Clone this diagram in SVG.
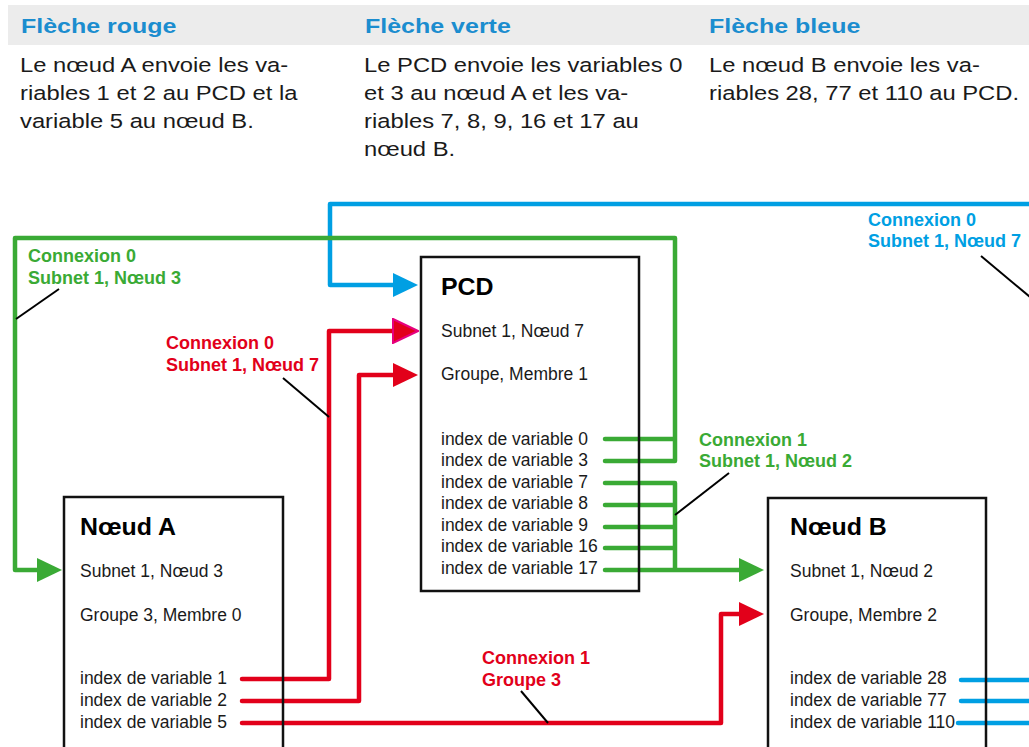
<svg xmlns="http://www.w3.org/2000/svg" width="1029" height="747" viewBox="0 0 1029 747">
<style>
text{font-family:"Liberation Sans",Arial,sans-serif}
.hd{font-size:21px;font-weight:bold;fill:#1b8dcf}
.bd{font-size:20.5px;fill:#1a1a1a}
.nt{font-size:23.5px;font-weight:bold;fill:#000}
.nb{font-size:17.5px;fill:#1a1a1a}
.lb{font-size:18px;font-weight:bold}
.box{fill:none;stroke:#111;stroke-width:2.5}
.g{fill:none;stroke:#3aaa35;stroke-width:4.5;stroke-linecap:round;stroke-linejoin:round}
.r{fill:none;stroke:#e2001a;stroke-width:4.5;stroke-linecap:round;stroke-linejoin:round}
.b{fill:none;stroke:#009fe3;stroke-width:4.5;stroke-linecap:round;stroke-linejoin:round}
.ld{fill:none;stroke:#000;stroke-width:2}
</style>
<defs>
<marker id="ag" markerUnits="userSpaceOnUse" viewBox="0 0 25 24" refX="2" refY="12" markerWidth="25" markerHeight="24" orient="auto"><path d="M0,0 L25,12 L0,24 z" fill="#3aaa35"/></marker>
<marker id="ar" markerUnits="userSpaceOnUse" viewBox="0 0 25 24" refX="2" refY="12" markerWidth="25" markerHeight="24" orient="auto"><path d="M0,0 L25,12 L0,24 z" fill="#e2001a"/></marker>
<marker id="arm" markerUnits="userSpaceOnUse" viewBox="-1 -1 27 26" refX="2" refY="12" markerWidth="27" markerHeight="26" orient="auto"><path d="M0,0 L25,12 L0,24 z" fill="#e2001a" stroke="#e6007e" stroke-width="2" stroke-linejoin="miter"/></marker>
<marker id="ab" markerUnits="userSpaceOnUse" viewBox="0 0 25 24" refX="2" refY="12" markerWidth="25" markerHeight="24" orient="auto"><path d="M0,0 L25,12 L0,24 z" fill="#009fe3"/></marker>
</defs>

<g id="header">
<rect x="8" y="5" width="1021" height="40" fill="#ececec"/>
<text class="hd" transform="translate(21,33) scale(1.19,1)">Flèche rouge</text>
<text class="hd" transform="translate(365,33) scale(1.19,1)">Flèche verte</text>
<text class="hd" transform="translate(709,33) scale(1.19,1)">Flèche bleue</text>
<text class="bd" transform="translate(20,72) scale(1.16,1)">Le nœud A envoie les va-</text>
<text class="bd" transform="translate(20,100) scale(1.16,1)">riables 1 et 2 au PCD et la</text>
<text class="bd" transform="translate(20,128) scale(1.16,1)">variable 5 au nœud B.</text>
<text class="bd" transform="translate(364,72) scale(1.16,1)">Le PCD envoie les variables 0</text>
<text class="bd" transform="translate(364,100) scale(1.16,1)">et 3 au nœud A et les va-</text>
<text class="bd" transform="translate(364,128) scale(1.16,1)">riables 7, 8, 9, 16 et 17 au</text>
<text class="bd" transform="translate(364,156) scale(1.16,1)">nœud B.</text>
<text class="bd" transform="translate(709,72) scale(1.16,1)">Le nœud B envoie les va-</text>
<text class="bd" transform="translate(709,100) scale(1.16,1)">riables 28, 77 et 110 au PCD.</text>
</g>

<g id="connectors">
<!-- blue: Noeud B -> PCD -->
<path class="b" d="M961,680 H1034 M961,701 H1034 M958,723 H1034 V204 H330 V285 H395" marker-end="url(#ab)"/>
<!-- green: PCD -> Noeud A -->
<path class="g" d="M605,439 H675 M605,461 H675 V238 H15 V570 H39" marker-end="url(#ag)"/>
<!-- green: PCD -> Noeud B -->
<path class="g" d="M605,483 H675 M605,505 H675 M605,527 H675 M605,548 H675 M675,483 V570 M605,570 H741" marker-end="url(#ag)"/>
<!-- red: Noeud A -> PCD -->
<path class="r" d="M242,679 H329 V331 H395" marker-end="url(#arm)"/>
<path class="r" d="M242,701 H359 V375 H395" marker-end="url(#ar)"/>
<!-- red: Noeud A -> Noeud B -->
<path class="r" d="M242,723 H721 V614 H741" marker-end="url(#ar)"/>
<!-- leader lines -->
<line class="ld" x1="59" y1="289" x2="16" y2="319"/>
<line class="ld" x1="283" y1="378" x2="329" y2="417"/>
<line class="ld" x1="729" y1="473" x2="675" y2="515"/>
<line class="ld" x1="981" y1="256" x2="1030" y2="297"/>
<line class="ld" x1="521" y1="691" x2="548" y2="723"/>
</g>

<g id="labels">
<text class="lb" fill="#3aaa35" x="28" y="262">Connexion 0</text>
<text class="lb" fill="#3aaa35" x="28" y="284">Subnet 1, Nœud 3</text>
<text class="lb" fill="#e2001a" x="166" y="349">Connexion 0</text>
<text class="lb" fill="#e2001a" x="166" y="371">Subnet 1, Nœud 7</text>
<text class="lb" fill="#009fe3" x="868" y="226">Connexion 0</text>
<text class="lb" fill="#009fe3" x="868" y="247">Subnet 1, Nœud 7</text>
<text class="lb" fill="#3aaa35" x="699" y="446">Connexion 1</text>
<text class="lb" fill="#3aaa35" x="699" y="467">Subnet 1, Nœud 2</text>
<text class="lb" fill="#e2001a" x="482" y="664">Connexion 1</text>
<text class="lb" fill="#e2001a" x="482" y="686">Groupe 3</text>
</g>

<g id="pcd">
<rect class="box" x="421" y="257" width="218" height="334"/>
<text class="nt" transform="translate(441,295) scale(1.06,1)">PCD</text>
<text class="nb" x="441" y="337">Subnet 1, Nœud 7</text>
<text class="nb" x="441" y="380">Groupe, Membre 1</text>
<text class="nb" x="441" y="444.5">index de variable 0</text>
<text class="nb" x="441" y="466">index de variable 3</text>
<text class="nb" x="441" y="488">index de variable 7</text>
<text class="nb" x="441" y="509">index de variable 8</text>
<text class="nb" x="441" y="530.5">index de variable 9</text>
<text class="nb" x="441" y="552">index de variable 16</text>
<text class="nb" x="441" y="573.5">index de variable 17</text>
</g>

<g id="noeud-a">
<rect class="box" x="64" y="497" width="219" height="270"/>
<text class="nt" transform="translate(80,535) scale(1.06,1)">Nœud A</text>
<text class="nb" x="80" y="577">Subnet 1, Nœud 3</text>
<text class="nb" x="80" y="621">Groupe 3, Membre 0</text>
<text class="nb" x="80" y="684">index de variable 1</text>
<text class="nb" x="80" y="706">index de variable 2</text>
<text class="nb" x="80" y="727.5">index de variable 5</text>
</g>

<g id="noeud-b">
<rect class="box" x="768" y="498" width="218" height="270"/>
<text class="nt" transform="translate(790,535) scale(1.06,1)">Nœud B</text>
<text class="nb" x="790" y="577">Subnet 1, Nœud 2</text>
<text class="nb" x="790" y="621">Groupe, Membre 2</text>
<text class="nb" x="790" y="684">index de variable 28</text>
<text class="nb" x="790" y="706">index de variable 77</text>
<text class="nb" x="790" y="727.5">index de variable 110</text>
</g>
</svg>
